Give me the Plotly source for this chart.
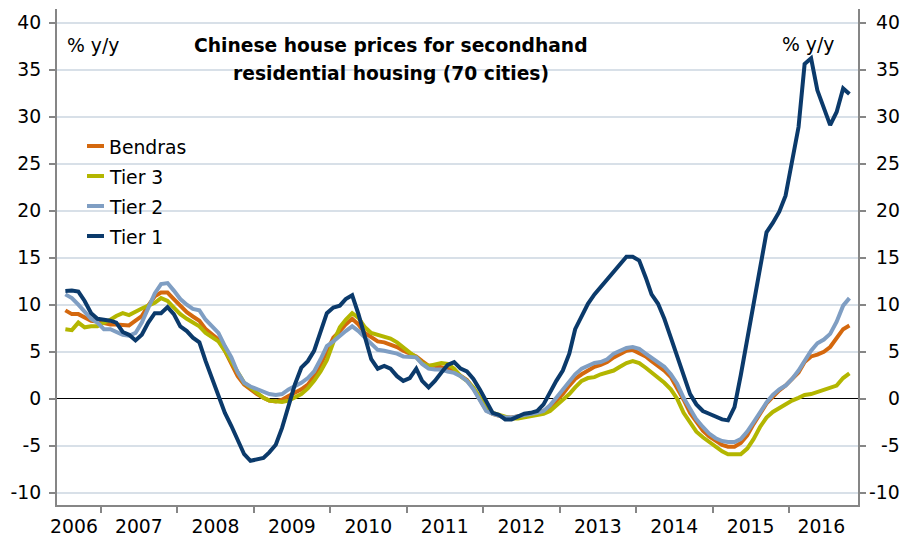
import pandas as pd
import plotly.graph_objects as go

# Monthly observations, Jul 2006 .. Oct 2016 (% y/y)
months = pd.date_range("2006-07-01", periods=124, freq="MS") + pd.Timedelta(days=14)

bendras = [9.4, 9.0, 9.0, 8.6, 8.3, 8.2, 8.0, 7.9, 7.9, 7.9, 7.8, 8.3, 8.8, 9.9, 10.9, 11.3, 11.3, 10.6,
           9.9, 9.2, 8.75, 8.3, 7.4, 6.8, 6.3, 5.1, 3.8, 2.4, 1.5, 1.0, 0.5, 0.1, -0.2, -0.3, -0.1, 0.3,
           0.6, 1.0, 1.5, 2.4, 3.6, 5.15, 6.5, 7.2, 7.9, 8.5, 7.9, 7.0, 6.5, 6.1, 6.0, 5.8, 5.5, 5.1,
           4.8, 4.5, 4.0, 3.5, 3.5, 3.4, 3.2, 2.9, 2.5, 2.0, 1.1, -0.1, -1.2, -1.6, -1.8, -2.0, -2.0, -1.9,
           -1.8, -1.7, -1.5, -1.3, -0.9, -0.2, 0.5, 1.4, 2.1, 2.6, 3.0, 3.4, 3.6, 3.9, 4.4, 4.8, 5.1, 5.2,
           4.9, 4.5, 4.0, 3.5, 3.0, 2.3, 1.2, -0.1, -1.5, -2.5, -3.4, -4.0, -4.5, -4.9, -5.1, -5.1, -4.7, -3.9,
           -2.7, -1.6, -0.5, 0.2, 0.9, 1.4, 2.1, 2.8, 3.9, 4.5, 4.7, 5.0, 5.5, 6.4, 7.4, 7.8]

tier3 = [7.4, 7.3, 8.1, 7.6, 7.7, 7.7, 8.1, 8.4, 8.8, 9.1, 8.9, 9.3, 9.6, 9.9, 10.2, 10.7, 10.4, 9.7,
         9.0, 8.5, 8.1, 7.7, 7.0, 6.6, 6.1, 5.1, 4.0, 2.8, 1.7, 1.2, 0.6, 0.1, -0.2, -0.3, -0.35, -0.2,
         0.1, 0.5, 1.1, 1.9, 2.9, 4.1, 6.0, 7.6, 8.4, 9.1, 8.6, 7.6, 7.0, 6.8, 6.7, 6.4, 6.0, 5.4,
         4.9, 4.4, 3.8, 3.5, 3.7, 3.8, 3.7, 3.2, 2.4, 1.9, 1.2, 0.1, -0.9, -1.5, -1.7, -1.9, -2.1, -2.1,
         -2.0, -1.9, -1.8, -1.6, -1.3, -0.7, -0.2, 0.5, 1.2, 1.9, 2.2, 2.3, 2.6, 2.8, 3.0, 3.4, 3.8, 4.0,
         3.8, 3.3, 2.8, 2.3, 1.7, 1.0, 0.0, -1.5, -2.5, -3.5, -4.1, -4.6, -5.2, -5.6, -5.9, -5.9, -5.9, -5.3,
         -4.3, -3.0, -2.0, -1.4, -1.0, -0.5, -0.2, 0.1, 0.4, 0.5, 0.7, 0.9, 1.1, 1.4, 2.2, 2.7]

tier2 = [11.1, 10.7, 10.0, 9.3, 8.5, 8.1, 7.4, 7.4, 7.1, 6.8, 6.7, 7.0, 8.1, 9.7, 11.2, 12.2, 12.3, 11.5,
         10.6, 10.0, 9.55, 9.4, 8.4, 7.7, 7.0, 5.6, 4.4, 2.8, 1.7, 1.3, 1.0, 0.7, 0.5, 0.4, 0.5, 1.0,
         1.3, 1.7, 2.2, 2.9, 4.2, 5.6, 6.1, 6.7, 7.2, 7.7, 7.2, 6.5, 5.8, 5.2, 5.1, 5.0, 4.8, 4.5,
         4.4, 4.4, 3.7, 3.2, 3.1, 3.1, 2.9, 2.75, 2.4, 1.9, 1.0, -0.2, -1.3, -1.6, -1.8, -2.0, -2.0, -1.9,
         -1.8, -1.6, -1.5, -1.3, -0.7, 0.1, 1.0, 1.9, 2.6, 3.2, 3.55, 3.8, 3.9, 4.2, 4.8, 5.1, 5.4, 5.5,
         5.3, 4.8, 4.4, 3.9, 3.4, 2.6, 1.6, 0.1, -1.1, -2.2, -3.0, -3.7, -4.2, -4.5, -4.6, -4.6, -4.3, -3.5,
         -2.5, -1.4, -0.4, 0.4, 1.0, 1.4, 2.1, 3.0, 4.1, 5.1, 5.9, 6.3, 6.9, 8.2, 9.9, 10.7]

tier1 = [11.45, 11.5, 11.4, 10.4, 9.1, 8.5, 8.4, 8.3, 8.1, 7.1, 6.8, 6.2, 6.8, 8.1, 9.1, 9.1, 9.75, 9.0,
         7.7, 7.2, 6.5, 6.0, 4.0, 2.2, 0.3, -1.5, -2.9, -4.3, -5.9, -6.6, -6.5, -6.3, -5.7, -4.9, -3.1, -0.6,
         1.5, 3.3, 4.0, 5.1, 7.2, 9.1, 9.7, 9.9, 10.6, 11.0, 9.0, 6.5, 4.2, 3.2, 3.5, 3.2, 2.4, 1.9,
         2.2, 3.2, 1.9, 1.2, 1.9, 2.8, 3.6, 3.9, 3.2, 2.9, 2.1, 1.0, -0.2, -1.5, -1.7, -2.2, -2.2, -1.9,
         -1.6, -1.5, -1.3, -0.6, 0.7, 1.9, 3.0, 4.8, 7.4, 8.8, 10.1, 11.1, 11.9, 12.7, 13.5, 14.4, 15.1, 15.1,
         14.7, 12.9, 11.1, 10.1, 8.5, 6.5, 4.6, 2.4, 0.5, -0.6, -1.3, -1.6, -1.9, -2.2, -2.3, -0.9, 2.5, 6.3,
         10.2, 14.0, 17.7, 18.7, 19.9, 21.6, 25.0, 28.9, 35.6, 36.2, 32.8, 30.9, 29.1, 30.5, 33.0, 32.4]

series_names = ["Bendras", "Tier 3", "Tier 2", "Tier 1"]
series_values = [bendras, tier3, tier2, tier1]
series_colors = ["#D4680E", "#B3B600", "#7F9EC3", "#0B3A6B"]

year_labels = ["2006", "2007", "2008", "2009", "2010", "2011", "2012", "2013", "2014", "2015", "2016"]
year_label_pos = ["2006-08-25"] + [f"{y}-07-01" for y in range(2007, 2016)] + ["2016-06-03"]
year_ticks = [f"{y}-01-01" for y in range(2007, 2017)]
y_ticks = [-10, -5, 0, 5, 10, 15, 20, 25, 30, 35, 40]
y_ticktext = [str(v) for v in y_ticks]

FONT = "DejaVu Sans"
FS = 18.8
AXIS_GRAY = "#868686"
GRID = "#D8E0E8"
Y_RANGE = [-11.3, 41.45]

fig = go.Figure()
for name, vals, col in zip(series_names, series_values, series_colors):
    fig.add_trace(go.Scatter(x=months, y=vals, name=name, mode="lines",
                             line=dict(color=col, width=4), showlegend=False))
# invisible trace to anchor the right-hand axis
fig.add_trace(go.Scatter(x=months, y=tier1, yaxis="y2", mode="lines",
                         line=dict(width=0), opacity=0, hoverinfo="skip", showlegend=False))

W, H = 904, 538
ML, MR, MT, MB = 57, 46, 9, 33
PW, PH = W - ML - MR, H - MT - MB


def px(xp):
    return (xp - ML) / PW


def py(yp):
    return (H - MB - yp) / PH


fig.update_layout(
    width=W, height=H,
    margin=dict(l=ML, r=MR, t=MT, b=MB, pad=0, autoexpand=False),
    paper_bgcolor="white", plot_bgcolor="white",
    font=dict(family=FONT, size=FS, color="#000000"),
    xaxis=dict(
        type="date", range=["2006-06-05", "2016-11-25"], automargin=False,
        tickmode="array", tickvals=year_label_pos, ticktext=year_labels,
        ticks="", showgrid=False, zeroline=False,
        showline=True, linecolor=AXIS_GRAY, linewidth=2,
        tickfont=dict(family=FONT, size=FS, color="#000000"),
        ticklabelstandoff=3,
        minor=dict(tickmode="array", tickvals=year_ticks, ticks="outside", ticklen=6,
                   tickwidth=1.5, tickcolor=AXIS_GRAY, showgrid=False),
    ),
    yaxis=dict(
        range=Y_RANGE, automargin=False, tickmode="array", tickvals=y_ticks, ticktext=y_ticktext,
        ticks="outside", ticklen=6, tickwidth=1.5, tickcolor=AXIS_GRAY,
        showgrid=True, gridcolor=GRID, gridwidth=1.5,
        zeroline=True, zerolinecolor="#000000", zerolinewidth=1,
        showline=True, linecolor=AXIS_GRAY, linewidth=2,
        tickfont=dict(family=FONT, size=FS, color="#000000"),
        ticklabelstandoff=4,
    ),
    yaxis2=dict(
        range=Y_RANGE, automargin=False, overlaying="y", side="right",
        tickmode="array", tickvals=y_ticks,
        ticks="outside", ticklen=6, tickwidth=1.5, tickcolor=AXIS_GRAY,
        showticklabels=False, showgrid=False, zeroline=False,
        showline=True, linecolor=AXIS_GRAY, linewidth=2,
    ),
)

# right-hand tick labels, right-aligned like the original
for v, t in zip(y_ticks, y_ticktext):
    fig.add_annotation(text=t, xref="paper", yref="y2", x=px(902), y=v,
                       xanchor="right", yanchor="middle", showarrow=False,
                       font=dict(family=FONT, size=FS, color="#000000"))

for txt, yy in [("<b>Chinese house prices for secondhand</b>", 45),
                ("<b>residential housing (70 cities)</b>", 73)]:
    fig.add_annotation(text=txt, xref="paper", yref="paper", x=px(391), y=py(yy),
                       xanchor="center", yanchor="middle", showarrow=False,
                       font=dict(family=FONT, size=18.7, color="#000000"))

fig.add_annotation(text="% y/y", xref="paper", yref="paper", x=px(65), y=py(45),
                   xanchor="left", yanchor="middle", showarrow=False,
                   font=dict(family=FONT, size=FS, color="#000000"))
fig.add_annotation(text="% y/y", xref="paper", yref="paper", x=px(836), y=py(44),
                   xanchor="right", yanchor="middle", showarrow=False,
                   font=dict(family=FONT, size=FS, color="#000000"))

# legend (drawn manually to match the short line samples)
legend_rows = [147, 177, 207, 237]
for name, col, ly in zip(series_names, series_colors, legend_rows):
    fig.add_shape(type="line", xref="paper", yref="paper",
                  x0=px(87), x1=px(104), y0=py(ly - 1), y1=py(ly - 1),
                  line=dict(color=col, width=4))
    fig.add_annotation(text=name, xref="paper", yref="paper", x=px(107), y=py(ly),
                       xanchor="left", yanchor="middle", showarrow=False,
                       font=dict(family=FONT, size=FS, color="#000000"))

fig.write_html("out.html", config={"displayModeBar": False},
               post_script="document.body.style.margin='0';")
